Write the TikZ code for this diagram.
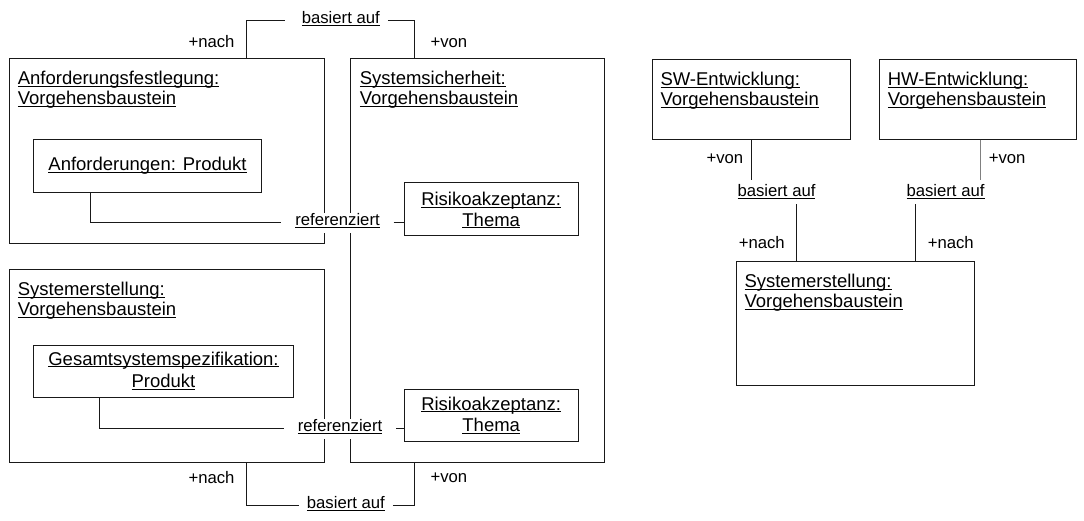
\documentclass[tikz,border=0pt]{standalone}
\usepackage{fontspec}
\setmainfont{Liberation Sans}
\usetikzlibrary{calc}
% underline placed just below the baseline (through the descenders)
\newsavebox\ulbox
\newcommand{\ulx}[1]{\sbox\ulbox{#1}\rlap{\rule[-2.4pt]{\wd\ulbox}{1pt}}\usebox\ulbox}
\begin{document}
\begin{tikzpicture}[x=1pt,y=-1pt,
  line width=1pt,
  box/.style={draw=black!90, line width=1pt, rectangle, inner sep=0pt, outer sep=0pt, anchor=north west},
  title/.style={anchor=base west, inner sep=0pt, font=\fontsize{18.5pt}{20pt}\selectfont},
  ctext/.style={anchor=base, inner sep=0pt, font=\fontsize{18.5pt}{20pt}\selectfont},
  role/.style={anchor=base west, inner sep=0pt, font=\fontsize{16.7pt}{18pt}\selectfont},
  link/.style={anchor=base, outer sep=0pt, font=\fontsize{16.7pt}{18pt}\selectfont,
    text height=5.4pt, text depth=0pt, inner xsep=8pt, inner ysep=7.3pt},
  reflink/.style={link, fill=white, inner xsep=14pt},
  vlink/.style={link, text height=9.4pt},
  conn/.style={draw=black!90, line width=1pt}
]
\useasboundingbox (0,0) rectangle (1084,520);

% outer building blocks
\node[box, minimum width=315pt, minimum height=185pt] (anf)   at (9.5,58.5) {};
\node[box, minimum width=254pt, minimum height=404pt] (sys)   at (350.5,58.5) {};
\node[box, minimum width=315pt, minimum height=193pt] (syse)  at (9.5,269.5) {};
\node[box, minimum width=198pt, minimum height=80pt]  (sw)    at (652.5,59.5) {};
\node[box, minimum width=197pt, minimum height=80pt]  (hw)    at (879.5,59.5) {};
\node[box, minimum width=238pt, minimum height=124pt] (syse2) at (736.5,261.5) {};

% inner objects
\node[box, minimum width=228pt, minimum height=53pt] (anfprod) at (33.5,139.5) {};
\node[box, minimum width=174pt, minimum height=53pt] (risk1)   at (404.5,182.5) {};
\node[box, minimum width=260pt, minimum height=52pt] (gesamt)  at (33.5,345.5) {};
\node[box, minimum width=174pt, minimum height=52pt] (risk2)   at (404.5,389.5) {};

% titles
\node[title] (anfT1) at (17.3,84.3)  {\ulx{Anforderungsfestlegung:}};
\node[title] (anfT2) at (17.3,104.3) {\ulx{Vorgehensbaustein}};
\node[title] (sysT1) at (359.3,84.3)  {\ulx{Systemsicherheit:}};
\node[title] (sysT2) at (359.3,104.3) {\ulx{Vorgehensbaustein}};
\node[title] (syseT1) at (17.3,295.7) {\ulx{Systemerstellung:}};
\node[title] (syseT2) at (17.3,315.7) {\ulx{Vorgehensbaustein}};
\node[title] (swT1) at (660,85.3)  {\ulx{SW-Entwicklung:}};
\node[title] (swT2) at (660,105.3) {\ulx{Vorgehensbaustein}};
\node[title] (hwT1) at (887.3,85.3)  {\ulx{HW-Entwicklung:}};
\node[title] (hwT2) at (887.3,105.3) {\ulx{Vorgehensbaustein}};
\node[title] (syse2T1) at (744,287.7) {\ulx{Systemerstellung:}};
\node[title] (syse2T2) at (744,307.7) {\ulx{Vorgehensbaustein}};

\node[ctext] (anfprodT) at (147.5,170.7) {\ulx{Anforderungen: Produkt}};
\node[ctext] (risk1T1) at (491.2,205.7) {\ulx{Risikoakzeptanz:}};
\node[ctext] (risk1T2) at (491.2,226)   {\ulx{Thema}};
\node[ctext] (gesamtT1) at (163.5,365)   {\ulx{Gesamtsystemspezifikation:}};
\node[ctext] (gesamtT2) at (163.5,387.7) {\ulx{Produkt}};
\node[ctext] (risk2T1) at (491.2,410)   {\ulx{Risikoakzeptanz:}};
\node[ctext] (risk2T2) at (491.2,431.7) {\ulx{Thema}};

% association labels
\node[link]    (b1) at (340.8,23.2)  {\ulx{basiert auf}};
\node[link]    (b2) at (345.9,508.2) {\ulx{basiert auf}};
\node[reflink] (r1) at (337.5,225.2) {\ulx{referenziert}};
\node[reflink] (r2) at (340,431.2)   {\ulx{referenziert}};
\node[vlink]   (b3) at (776.5,196.7) {\ulx{basiert auf}};
\node[vlink]   (b4) at (945.5,196.7) {\ulx{basiert auf}};

% associations
\draw[conn] ([xshift=237pt]anf.north west) |- ([xshift=-8.7pt]b1.west);
\draw[conn] (b1.east) -| ([xshift=64pt]sys.north west);
\draw[conn] ([xshift=237pt]syse.south west) |- (b2.west);
\draw[conn] (b2.east) -| ([xshift=64pt]sys.south west);
\draw[conn] ([xshift=57pt]anfprod.south west) |- (r1.west);
\draw[conn] (r1.east) -- (r1.east -| risk1.west);
\draw[conn] ([xshift=66pt]gesamt.south west) |- (r2.west);
\draw[conn] (r2.east) -- (r2.east -| risk2.west);

\coordinate (swp) at (sw.south);
\coordinate (hwp) at ([xshift=2.5pt]hw.south);
\coordinate (s2a) at ([xshift=60pt]syse2.north west);
\coordinate (s2b) at ([xshift=179pt]syse2.north west);
\draw[conn] (swp) -- (swp |- b3.north);
\draw[conn] (s2a) -- (s2a |- b3.south);
\draw[conn, draw=gray] (hwp) -- (hwp |- b4.north);
\draw[conn] (s2b) -- (s2b |- b4.south);

% role names
\node[role] (rn1) at (188,47.7)   {+nach};
\node[role] (rv1) at (430,47.3)   {+von};
\node[role] (rn2) at (188,483.3)  {+nach};
\node[role] (rv2) at (430,482.7)  {+von};
\node[role] (rv3) at (706,163.3)  {+von};
\node[role] (rv4) at (988.3,163)  {+von};
\node[role] (rn3) at (738.3,248.3) {+nach};
\node[role] (rn4) at (927.3,248)  {+nach};
\end{tikzpicture}
\end{document}
